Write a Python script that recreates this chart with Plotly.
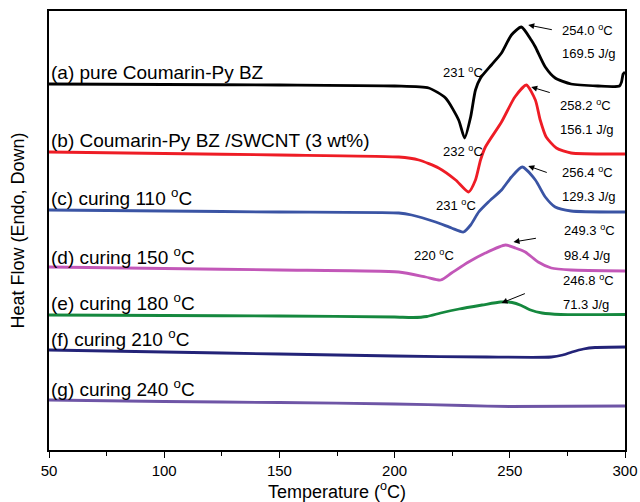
import plotly.graph_objects as go

# ---- data (temperature in °C, heat flow in arbitrary stacked units) ----
T_a = [50, 100, 150, 200, 214.8, 222.1, 227.8, 230.4, 233.0, 235.1, 237.3, 242.0, 246.4, 250.7, 255.0,
       259.3, 261.1, 265.4, 269.7, 276.6, 288.3, 297.6, 298.5, 299.2, 300]
HF_a = [366, 365.5, 365, 364, 362, 352, 330, 312, 333, 360, 372, 385, 397, 415, 423,
        410, 403, 383, 372, 366, 364, 364, 368, 376, 378]

T_b = [50, 100, 150, 201.8, 210.5, 219.1, 226.5, 232.1, 235.1, 237.3, 239.4, 246.4, 252.2, 257.2,
       261.1, 263.2, 265.8, 270.2, 276.6, 296.9, 300]
HF_b = [298, 296.5, 295, 293, 290, 282, 270, 258, 270, 290, 303, 328, 353, 365,
        350, 330, 313, 302, 297, 296, 296]

T_c = [50, 100, 150, 201.8, 207.4, 217.8, 224.7, 229.9, 233.0, 236.5, 240.7, 246.4, 250.7, 255.4,
       261.1, 265.4, 269.7, 276.6, 298.3, 300]
HF_c = [240, 239, 238, 237, 235, 228, 222, 218, 225, 238, 248, 260, 273, 283,
        270, 253, 243, 239, 238, 238]

T_d = [50, 100, 150, 201.8, 213.5, 220.0, 224.7, 232.1, 239.4, 248.1, 252.4, 256.7, 262.3, 268.0, 276.6, 300]
HF_d = [183, 181.5, 180, 178, 173, 170, 177, 188, 197, 205, 202, 198, 188, 182, 180, 179]

T_e = [50, 100, 150, 200, 208, 214, 220, 228, 238, 246, 251, 255, 259, 264, 272, 300]
HF_e = [135, 134.5, 134, 133, 132.5, 133.5, 137, 141, 145, 148, 147.5, 144.5, 140, 137, 135.5, 135.5]

T_f = [50, 100, 150, 200, 240, 268, 273, 277, 282, 287, 300]
HF_f = [100, 98, 96, 94, 93, 93, 95, 98, 101, 102.5, 103]

T_g = [50, 100, 150, 200, 230, 250, 300]
HF_g = [50, 48.5, 47.5, 46, 44.5, 43.5, 44]

series_names = ["(a) pure Coumarin-Py BZ",
                "(b) Coumarin-Py BZ /SWCNT (3 wt%)",
                "(c) curing 110 <sup>o</sup>C",
                "(d) curing 150 <sup>o</sup>C",
                "(e) curing 180 <sup>o</sup>C",
                "(f) curing 210 <sup>o</sup>C",
                "(g) curing 240 <sup>o</sup>C"]
label_y = [378, 310, 253, 194, 148, 112, 62]
colors = ["#000000", "#ee1c25", "#3a54a4", "#c257b8", "#15883e", "#232378", "#6e55a6"]

# peak annotations: temperature / enthalpy text, text position, arrow head & tail
peak_T = ["254.0", "258.2", "256.4", "249.3", "246.8"]
peak_H = ["169.5", "156.1", "129.3", "98.4", "71.3"]
peak_text_x = [271.9, 271.0, 271.9, 272.7, 272.3]
peak_text_y1 = [420, 345, 278, 220, 170]
peak_text_y2 = [397, 321, 254, 195, 146]
arrow_head = [(258.0, 425), (259.3, 363), (258.0, 284), (251.6, 208), (246.4, 147)]
arrow_tail = [(268.9, 420), (268.0, 357), (266.7, 277), (262.0, 212), (257.2, 157)]

dip_text = ["231", "232", "231", "220"]
dip_pos = [(229.5, 378), (229.5, 299), (226.7, 245), (217.2, 195)]

FONT = "Liberation Sans, Arial, sans-serif"

fig = go.Figure()
for T, HF, c in zip([T_a, T_b, T_c, T_d, T_e, T_f, T_g],
                    [HF_a, HF_b, HF_c, HF_d, HF_e, HF_f, HF_g], colors):
    fig.add_trace(go.Scatter(x=T, y=HF, mode="lines",
                             line=dict(color=c, width=2.8, shape="spline", smoothing=0.6),
                             showlegend=False, hoverinfo="skip"))

ann = []
for name, y in zip(series_names, label_y):
    ann.append(dict(x=50, y=y, xref="x", yref="y", text=name, showarrow=False,
                    xanchor="left", yanchor="middle", font=dict(size=19, color="black", family=FONT)))
for i in range(len(peak_T)):
    ann.append(dict(x=peak_text_x[i], y=peak_text_y1[i], xref="x", yref="y",
                    text=peak_T[i] + " <sup>o</sup>C", showarrow=False,
                    xanchor="left", yanchor="middle", font=dict(size=13, color="black", family=FONT)))
    ann.append(dict(x=peak_text_x[i], y=peak_text_y2[i], xref="x", yref="y",
                    text=peak_H[i] + " J/g", showarrow=False,
                    xanchor="left", yanchor="middle", font=dict(size=13, color="black", family=FONT)))
    ann.append(dict(x=arrow_head[i][0], y=arrow_head[i][1], ax=arrow_tail[i][0], ay=arrow_tail[i][1],
                    xref="x", yref="y", axref="x", ayref="y", text="", showarrow=True,
                    arrowhead=2, arrowsize=1.2, arrowwidth=1, arrowcolor="black", standoff=0))
for t, (x, y) in zip(dip_text, dip_pos):
    ann.append(dict(x=x, y=y, xref="x", yref="y", text=t + " <sup>o</sup>C", showarrow=False,
                    xanchor="center", yanchor="middle", font=dict(size=13, color="black", family=FONT)))

fig.update_layout(
    width=640, height=502,
    margin=dict(l=49, r=15, t=11, b=52),
    paper_bgcolor="white", plot_bgcolor="white",
    font=dict(family=FONT, color="black"),
    annotations=ann,
    xaxis=dict(range=[50, 300], tickvals=[50, 100, 150, 200, 250, 300],
               ticks="outside", ticklen=6, tickwidth=1.3, tickcolor="black",
               minor=dict(dtick=25, tick0=50, ticks="outside", ticklen=4, tickwidth=1.3, tickcolor="black", showgrid=False),
               showline=True, linecolor="black", linewidth=1.5, mirror=True,
               showgrid=False, zeroline=False,
               tickfont=dict(size=15, color="black", family=FONT),
               title=dict(text="Temperature (<sup>o</sup>C)", font=dict(size=18, color="black", family=FONT), standoff=10),
               automargin=False),
    yaxis=dict(range=[0, 439], showticklabels=False, ticks="",
               showline=True, linecolor="black", linewidth=1.5, mirror=True,
               showgrid=False, zeroline=False,
               title=dict(text="Heat Flow (Endo, Down)", font=dict(size=18, color="black", family=FONT), standoff=18),
               automargin=False),
)

fig.write_html("out.html")
